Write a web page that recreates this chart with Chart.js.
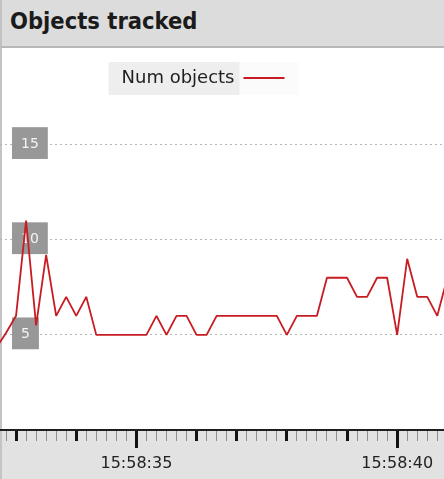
<!DOCTYPE html>
<html>
<head>
<meta charset="utf-8">
<script src="https://cdn.jsdelivr.net/npm/chart.js@4.4.1/dist/chart.umd.min.js"></script>
<style>
  html, body { margin: 0; padding: 0; width: 444px; height: 479px; overflow: hidden; background: #fff; }
  #header {
    position: absolute; left: 0; top: 0; width: 434px; height: 46px;
    background: #dcdcdc; border-left: 2px solid #c2c2c2; border-bottom: 2px solid #b8b8b8;
    padding-left: 8px; color: #1b1b1b;
    font-family: "DejaVu Sans Condensed", "DejaVu Sans", sans-serif; font-stretch: condensed;
    font-weight: bold; font-size: 23.5px; line-height: 43px; white-space: nowrap;
  }
  #plot { position: absolute; left: 0; top: 48px; width: 444px; height: 431px; }
</style>
</head>
<body>
<div id="header">Objects tracked</div>
<div id="plot"><canvas id="chart" width="444" height="431"></canvas></div>
<script>
// Series
const seriesName = 'Num objects';
// One reading per sample; the first and the last sample lie just outside the visible window.
const numObjects = [4.3, 5.1, 6, 11, 5.5, 9.2, 6, 7, 6, 7,
                    5, 5, 5, 5, 5, 5, 6, 5, 6, 6,
                    5, 5, 6, 6, 6, 6, 6, 6, 6, 5,
                    6, 6, 6, 8, 8, 8, 7, 7, 8, 8,
                    5, 9, 7, 7, 6, 8];
// Visible window, in sample numbers
const windowStart = 0.4;
const windowEnd = 44.67;
// Samples that open a new second (drawn with a heavy tick)
const secondTicks = [2, 8, 14, 20, 24, 29, 35, 40];
// Labelled samples on the time axis
const labelTicks = [14, 40];
const labelTexts = ['15:58:35', '15:58:40'];
// Value axis
const yMin = 0;
const yMax = 17.5;
const gridValues = [5, 10, 15];

const lineColor = '#c71c22';

const points = numObjects.map((v, i) => ({ x: i, y: v }));

const backdrop = {
  id: 'backdrop',
  afterLayout(chart) {
    // legend sits a little left of centre
    const lg = chart.legend;
    lg.left -= 19;
    lg.right -= 19;
  },
  beforeDraw(chart) {
    const { ctx, width, height, chartArea } = chart;
    ctx.save();
    ctx.fillStyle = '#e2e2e2';
    ctx.fillRect(0, 0, width, height);
    ctx.fillStyle = '#ffffff';
    ctx.fillRect(0, 0, width, chartArea.bottom);
    // legend panel behind the caption
    const hb = chart.legend.legendHitBoxes[0];
    if (hb) {
      ctx.fillStyle = '#eeeeee';
      ctx.fillRect(hb.left - 13, 14, hb.width - 41 + 13 + 4, 33);
      ctx.fillStyle = '#fbfbfb';
      ctx.fillRect(hb.left + hb.width - 41 - 4, 14, 59, 33);
    }
    ctx.fillStyle = '#c4c4c4';
    ctx.fillRect(0, 0, 2, height);
    ctx.restore();
  },
  afterDraw(chart) {
    // longer marks under the labelled times
    const { ctx } = chart;
    const xs = chart.scales.x;
    ctx.save();
    ctx.strokeStyle = '#111';
    ctx.lineWidth = 3;
    labelTicks.forEach(v => {
      const px = Math.round(xs.getPixelForValue(v)) + 0.5;
      ctx.beginPath();
      ctx.moveTo(px, xs.top + 10);
      ctx.lineTo(px, xs.top + 18);
      ctx.stroke();
    });
    ctx.restore();
  }
};

new Chart(document.getElementById('chart'), {
  type: 'line',
  data: {
    datasets: [{
      label: seriesName,
      data: points,
      borderColor: lineColor,
      backgroundColor: lineColor,
      borderWidth: 1.8,
      borderJoinStyle: 'bevel',
      pointRadius: 0,
      tension: 0,
      fill: false
    }]
  },
  options: {
    responsive: false,
    animation: false,
    devicePixelRatio: 1,
    layout: { padding: 0 },
    plugins: {
      tooltip: { enabled: false },
      legend: {
        display: true,
        position: 'top',
        align: 'center',
        rtl: true,
        labels: {
          boxWidth: 41,
          boxHeight: 2,
          padding: 21,
          color: '#1f1f1f',
          font: { family: 'DejaVu Sans', size: 18 },
          generateLabels: (chart) =>
            Chart.defaults.plugins.legend.labels.generateLabels(chart)
              .map(l => Object.assign(l, { lineWidth: 0, fillStyle: lineColor }))
        }
      }
    },
    scales: {
      x: {
        type: 'linear',
        min: windowStart,
        max: windowEnd,
        afterBuildTicks: (scale) => {
          const t = [];
          for (let s = Math.ceil(windowStart); s <= Math.floor(windowEnd); s++) t.push({ value: s });
          scale.ticks = t;
        },
        afterFit: (scale) => {
          scale.paddingLeft = 0;
          scale.paddingRight = 0;
          scale.height = 49;
        },
        ticks: {
          autoSkip: false,
          maxRotation: 0,
          minRotation: 0,
          padding: 13,
          color: '#222',
          font: { family: 'DejaVu Sans', size: 16 },
          callback: (v) => {
            const i = labelTicks.indexOf(v);
            return i >= 0 ? labelTexts[i] : '';
          }
        },
        grid: {
          drawOnChartArea: false,
          drawTicks: true,
          tickLength: 11,
          tickWidth: (c) => (c.tick && (secondTicks.includes(c.tick.value)) ? 3 : 1),
          tickColor: (c) => (c.tick && (secondTicks.includes(c.tick.value)) ? '#111' : '#8e8e8e')
        },
        border: { display: true, color: '#1e1e1e', width: 2 }
      },
      y: {
        min: yMin,
        max: yMax,
        afterBuildTicks: (scale) => { scale.ticks = gridValues.map(v => ({ value: v })); },
        afterFit: (scale) => { scale.width = 0; },
        grid: { color: '#b5b5b5', lineWidth: 1, drawTicks: false },
        border: { display: false, dash: [2, 3] },
        ticks: {
          mirror: true,
          padding: 21,
          color: '#f4f4f4',
          font: { family: 'DejaVu Sans', size: 14 },
          showLabelBackdrop: true,
          backdropColor: '#989898',
          backdropPadding: { top: 9, bottom: 6, left: 9, right: 9 }
        }
      }
    }
  },
  plugins: [backdrop]
});
</script>
</body>
</html>
